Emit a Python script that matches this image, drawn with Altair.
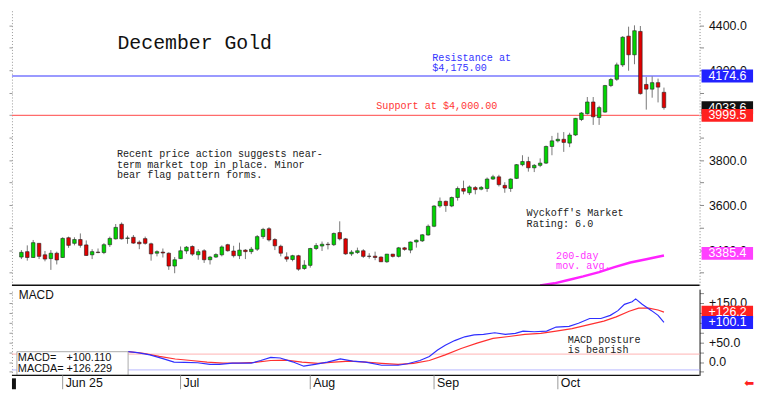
import altair as alt
import pandas as pd

# ---------------- data ----------------
opens = [3369, 3393, 3367, 3430, 3379, 3362, 3386, 3367, 3455, 3430,
         3447, 3423, 3379, 3391, 3389, 3424, 3450, 3515, 3452, 3457,
         3435, 3451, 3428, 3386, 3391, 3386, 3329, 3362, 3396, 3416,
         3379, 3397, 3357, 3369, 3379, 3424, 3396, 3375, 3400, 3393,
         3404, 3460, 3495, 3447, 3417, 3370, 3358, 3375, 3318, 3332,
         3407, 3418, 3426, 3424, 3478, 3450, 3383, 3389, 3397, 3373,
         3373, 3369, 3348, 3382, 3372, 3410, 3400, 3436, 3441, 3467,
         3506, 3596, 3617, 3596, 3634, 3674, 3655, 3678, 3671, 3674,
         3716, 3726, 3688, 3674, 3719, 3780, 3794, 3766, 3777, 3787,
         3861, 3886, 3893, 3876, 3912, 3981, 4007, 4059, 3990, 4014,
         4132, 4160, 4224, 4352, 4269, 4373, 4137, 4116, 4145, 4102]
highs = [3400, 3421, 3445, 3431, 3396, 3400, 3393, 3457, 3460, 3457,
         3474, 3443, 3404, 3407, 3431, 3460, 3516, 3523, 3464, 3467,
         3443, 3460, 3433, 3399, 3407, 3390, 3369, 3416, 3418, 3421,
         3404, 3404, 3374, 3386, 3421, 3428, 3419, 3433, 3404, 3414,
         3467, 3499, 3502, 3453, 3424, 3390, 3379, 3379, 3355, 3410,
         3431, 3438, 3436, 3478, 3528, 3454, 3400, 3411, 3404, 3386,
         3393, 3372, 3383, 3383, 3414, 3414, 3438, 3447, 3471, 3514,
         3600, 3634, 3620, 3638, 3683, 3709, 3688, 3685, 3685, 3723,
         3735, 3735, 3702, 3719, 3783, 3822, 3815, 3783, 3808, 3865,
         3908, 3922, 3925, 3922, 3988, 4014, 4081, 4081, 4042, 4135,
         4166, 4234, 4352, 4394, 4400, 4397, 4170, 4173, 4163, 4123]
lows = [3360, 3353, 3365, 3360, 3350, 3312, 3336, 3365, 3410, 3421,
        3411, 3374, 3360, 3386, 3382, 3414, 3447, 3447, 3428, 3428,
        3404, 3424, 3353, 3372, 3367, 3312, 3297, 3360, 3383, 3374,
        3357, 3343, 3336, 3365, 3372, 3393, 3367, 3360, 3360, 3382,
        3396, 3450, 3438, 3400, 3372, 3348, 3350, 3308, 3312, 3322,
        3400, 3396, 3403, 3418, 3443, 3379, 3374, 3383, 3365, 3362,
        3355, 3347, 3343, 3367, 3367, 3397, 3386, 3411, 3436, 3464,
        3502, 3588, 3570, 3591, 3620, 3648, 3645, 3648, 3666, 3659,
        3712, 3683, 3655, 3659, 3716, 3773, 3749, 3747, 3769, 3783,
        3822, 3879, 3837, 3858, 3908, 3974, 4003, 3957, 3957, 4011,
        4125, 4153, 4215, 4198, 4227, 4092, 4025, 4078, 4057, 4025]
closes = [3390, 3367, 3433, 3372, 3360, 3386, 3356, 3452, 3421, 3447,
          3421, 3376, 3393, 3389, 3424, 3452, 3501, 3450, 3454, 3431,
          3428, 3430, 3383, 3393, 3387, 3329, 3357, 3397, 3413, 3382,
          3393, 3357, 3369, 3380, 3414, 3397, 3375, 3400, 3393, 3404,
          3460, 3492, 3445, 3419, 3386, 3360, 3375, 3315, 3333, 3407,
          3420, 3426, 3424, 3474, 3450, 3383, 3391, 3397, 3372, 3372,
          3367, 3348, 3382, 3372, 3410, 3403, 3436, 3444, 3468, 3506,
          3596, 3617, 3598, 3634, 3674, 3662, 3681, 3669, 3679, 3716,
          3726, 3691, 3676, 3716, 3780, 3794, 3766, 3777, 3787, 3861,
          3886, 3893, 3879, 3912, 3986, 4010, 4059, 3993, 4034, 4132,
          4159, 4224, 4347, 4269, 4376, 4096, 4116, 4145, 4125, 4034]

# 200-day moving average (trading-day index, price)
ma_idx = [88, 90.4, 92.6, 95.3, 98, 100.6, 103.3, 106, 109]
ma_val = [3242, 3252, 3266, 3283, 3302, 3324, 3345, 3359, 3376]

# MACD (blue) and MACDA / signal (red)
macd_idx = [18.1, 19.7, 21.8, 24.0, 25.9, 27.7, 29.9, 32.0, 33.6, 35.8, 39.0, 40.6,
            42.3, 43.9, 46.0, 47.9, 49.8, 51.9, 54.1, 56.2, 58.4, 61.1, 63.9, 65.5,
            67.6, 69.2, 70.6, 71.9, 73.5, 75.2, 76.8, 78.4, 80.3, 82.1, 83.8, 85.1,
            87.0, 89.1, 90.7, 92.9, 94.5, 96.4, 98.3, 99.9, 101.2, 102.3, 103.6,
            104.2, 105.3, 106.9, 108.0, 109.0]
macd_val = [26.1, 23.7, 18.2, 8.6, -0.2, -1.0, -1.8, -5.8, -5.8, -2.6, -2.6, 3.8,
            11.8, 10.1, 0.5, -10.6, -5.8, -0.2, 7.7, 2.2, -0.2, -8.2, -8.2, -4.3,
            3.8, 14.1, 30.2, 42.2, 54.2, 63.8, 68.6, 70.0, 74.1, 70.0, 72.4, 78.2,
            76.5, 78.2, 88.5, 90.2, 98.1, 110.1, 110.1, 118.0, 130.0, 146.0, 152.5,
            159.7, 146.0, 130.0, 118.0, 100.1]
sig_idx = [18.1, 20.7, 23.4, 26.1, 28.8, 31.5, 34.2, 36.9, 39.6, 42.3, 44.9, 47.6,
           50.3, 53.0, 55.7, 58.4, 61.1, 63.9, 66.5, 69.2, 71.9, 74.6, 77.3, 80.0,
           82.7, 85.4, 88.1, 90.7, 93.4, 96.1, 98.8, 100.9, 103.1, 104.7, 106.4,
           108.0, 109.0]
sig_val = [26.1, 22.1, 14.1, 7.7, 3.8, -0.2, -2.6, -2.6, -1.0, 3.8, 4.6, -0.2,
           -3.4, -0.2, 2.2, -0.2, -3.4, -5.8, -3.4, 3.8, 18.2, 34.1, 47.7, 59.7,
           64.5, 70.0, 72.4, 78.2, 84.4, 94.0, 103.6, 114.1, 128.5, 136.5, 136.5,
           131.7, 126.2]

tick_idx = [7, 27, 49, 70, 91]
tick_text = ["Jun 25", "Jul", "Aug", "Sep", "Oct"]
price_ticks = [3300, 3400, 3500, 3600, 3700, 3800, 3900, 4000, 4100, 4200, 4300, 4400]
macd_ticks = [-25, 0, 25, 50, 75, 100, 125, 150, 175]

resistance = 4174.6
support = 3999.5
last_price = 4033.6
ma_last = 3385.4
macd_last = 100.110
macda_last = 126.229

# ---------------- layout ----------------
W = 694
H1 = 278
H2 = 87
XDOM = [-0.76, 114.2]
YDOM = [3243.7, 4469.2]
MDOM = [-33.8, 184.3]
SANS = "Liberation Sans"
MONO = "Liberation Mono"

xsc = alt.Scale(domain=XDOM, nice=False, zero=False)
ysc = alt.Scale(domain=YDOM, nice=False, zero=False)
msc = alt.Scale(domain=MDOM, nice=False, zero=False)

left_axis = alt.Axis(orient="left", values=price_ticks, labels=False, tickSize=3,
                     tickColor="#999", domainColor="#999", domainDash=[1, 2],
                     title=None, grid=False)
right_axis = alt.Axis(orient="right", values=price_ticks, tickSize=4, tickColor="#888",
                      domainColor="#888", domainDash=[1, 2],
                      labelExpr="datum.value % 200 == 0 ? format(datum.value, '.1f') : ''",
                      labelFont=SANS, labelFontSize=12.5, labelColor="#111",
                      labelPadding=5, labelOverlap=False, title=None, grid=False)
m_left_axis = alt.Axis(orient="left", values=macd_ticks, labels=False, tickSize=3,
                       tickColor="#999", domainColor="#999", domainDash=[1, 2],
                       title=None, grid=False)
m_right_axis = alt.Axis(orient="right", values=macd_ticks, tickSize=4, tickColor="#888",
                        domainColor="#111",
                        labelExpr="datum.value % 50 == 0 ? (datum.value > 0 ? '+' : '') + format(datum.value, '.1f') : ''",
                        labelFont=SANS, labelFontSize=12.5, labelColor="#111",
                        labelPadding=5, labelOverlap=False, title=None, grid=False)


def note(text, xv, yv, color, size, scale, font=MONO, baseline="top", lh=10.6):
    df = pd.DataFrame({"x": [xv], "y": [yv], "t": [text]})
    return alt.Chart(df).mark_text(align="left", baseline=baseline, color=color, font=font,
                                   fontSize=size, lineBreak="\n", lineHeight=lh).encode(
        x=alt.X("x:Q", scale=xsc, axis=None),
        y=alt.Y("y:Q", scale=scale, axis=None),
        text="t:N")


def hline(value, color, width, scale):
    return alt.Chart(pd.DataFrame({"v": [value]})).mark_rule(color=color, strokeWidth=width).encode(
        y=alt.Y("v:Q", scale=scale, axis=None))


def tag(value, text, color, scale):
    df = pd.DataFrame({"v": [value], "t": [text]})
    box = alt.Chart(df).mark_rule(color=color, strokeWidth=13).encode(
        x=alt.value(W + 2), x2=alt.value(W + 54),
        y=alt.Y("v:Q", scale=scale, axis=None))
    txt = alt.Chart(df).mark_text(align="left", baseline="middle", color="white",
                                  font=SANS, fontSize=12.5).encode(
        x=alt.value(W + 9), y=alt.Y("v:Q", scale=scale, axis=None), text="t:N")
    return box + txt


cdf = pd.DataFrame({"i": list(range(len(opens))), "open": opens, "high": highs,
                    "low": lows, "close": closes})

wicks = alt.Chart(cdf).mark_rule(color="#777", strokeWidth=1).encode(
    x=alt.X("i:Q", scale=xsc, axis=None),
    y=alt.Y("low:Q", scale=ysc, axis=left_axis),
    y2="high:Q")
bodies = alt.Chart(cdf).mark_bar(stroke="#222", strokeWidth=0.6).encode(
    x=alt.X("i:Q", scale=xsc, axis=None),
    y=alt.Y("open:Q", scale=ysc, axis=right_axis),
    y2="close:Q",
    color=alt.condition("datum.close >= datum.open", alt.value("#00d400"), alt.value("#e00000")),
    size=alt.value(3.6))

ma = alt.Chart(pd.DataFrame({"i": ma_idx, "v": ma_val})).mark_line(
    color="#ff22ff", strokeWidth=2.5, clip=True).encode(
    x=alt.X("i:Q", scale=xsc, axis=None), y=alt.Y("v:Q", scale=ysc, axis=None))

main = alt.layer(
    hline(resistance, "#9a9aff", 2, ysc),
    hline(support, "#ff6b6b", 1.2, ysc),
    wicks,
    bodies,
    ma,
    note("December Gold", 16.3, 4321.9, "#111", 20, ysc, baseline="middle"),
    note("Resistance at\n$4,175.00", 69.7, 4276.6, "#3535ff", 10.2, ysc),
    note(f"Support at ${support + 0.5:,.2f}", 60.2, 4061.8, "#ff3535", 10.2, ysc),
    note("Recent price action suggests near-\nterm market top in place. Minor\nbear flag pattern forms.",
         16.2, 3848.3, "#222", 10.2, ysc),
    note("Wyckoff's Market\nRating: 6.0", 85.7, 3584.9, "#222", 10.2, ysc),
    note("200-day\nmov. avg.", 90.7, 3397.0, "#ff33ff", 10.2, ysc),
    hline(YDOM[0], "#111", 1.5, ysc),
    tag(last_price, f"{last_price:.1f}", "#111111", ysc),
    tag(support, f"{support:.1f}", "#ff2020", ysc),
    tag(resistance, f"{resistance:.1f}", "#2222ff", ysc),
    tag(ma_last, f"{ma_last:.1f}", "#ff40ff", ysc),
).resolve_axis(y="independent").properties(width=W, height=H1)

sig = alt.Chart(pd.DataFrame({"i": sig_idx, "v": sig_val})).mark_line(
    color="#ff3030", strokeWidth=1.2).encode(
    x=alt.X("i:Q", scale=xsc, axis=None), y=alt.Y("v:Q", scale=msc, axis=m_right_axis))
mac = alt.Chart(pd.DataFrame({"i": macd_idx, "v": macd_val})).mark_line(
    color="#2f2fff", strokeWidth=1.2).encode(
    x=alt.X("i:Q", scale=xsc, axis=None), y=alt.Y("v:Q", scale=msc, axis=m_left_axis))

box = alt.Chart(pd.DataFrame({"x1": [XDOM[0]], "x2": [18.1], "y1": [26.1], "y2": [MDOM[0]]})).mark_rect(
    fill="white", stroke="#aaa", strokeWidth=1).encode(
    x=alt.X("x1:Q", scale=xsc, axis=None), x2="x2:Q",
    y=alt.Y("y1:Q", scale=msc, axis=None), y2="y2:Q")

# date strip under the MACD panel, drawn from the x scale
dates = pd.DataFrame({"i": tick_idx, "t": tick_text})
date_ticks = alt.Chart(dates).mark_rule(color="#999", strokeWidth=1).encode(
    x=alt.X("i:Q", scale=xsc, axis=None), y=alt.value(H2), y2=alt.value(H2 + 14))
date_labels = alt.Chart(dates).mark_text(
    align="left", baseline="top", dx=3, font=SANS, fontSize=12.5, color="#111").encode(
    x=alt.X("i:Q", scale=xsc, axis=None), y=alt.value(H2 + 2), text="t:N")

corner = alt.Chart(pd.DataFrame({"t": [""]})).mark_rule(color="#111", strokeWidth=4).encode(
    x=alt.value(2), y=alt.value(H2 + 3), y2=alt.value(H2 + 14))

arrow = alt.Chart(pd.DataFrame({"t": ["\u2b05"]})).mark_text(
    color="#ff2020", font="DejaVu Sans", fontSize=12, align="center", baseline="middle").encode(
    x=alt.value(W + 50), y=alt.value(H2 + 8), text="t:N")

macd = alt.layer(
    hline(20, "#ffb3b3", 1, msc),
    hline(-20, "#b8b8ff", 1, msc),
    sig,
    mac,
    box,
    note("MACD=", -0.6, 9.4, "#111", 11, msc, font=SANS, baseline="middle"),
    note(f"{macd_last:+.3f}", 7.63, 9.4, "#111", 11, msc, font=SANS, baseline="middle"),
    note("MACDA=", -0.6, -17.0, "#111", 11, msc, font=SANS, baseline="middle"),
    note(f"{macda_last:+.3f}", 7.63, -17.0, "#111", 11, msc, font=SANS, baseline="middle"),
    note("MACD", -0.45, 168.3, "#111", 12, msc, font=SANS, baseline="middle"),
    note("MACD posture\nis bearish", 92.7, 69.1, "#222", 10.2, msc),
    hline(MDOM[0], "#111", 1.5, msc),
    date_ticks,
    date_labels,
    corner,
    tag(macda_last, f"{macda_last:+.1f}", "#ff2020", msc),
    tag(macd_last, f"{macd_last:+.1f}", "#2222ff", msc),
    arrow,
).resolve_axis(y="independent").properties(width=W, height=H2)

chart = alt.vconcat(main, macd, spacing=0).resolve_scale(
    x="shared", y="independent").properties(padding=0).configure_view(stroke=None)

chart.save("out.html", embed_options={"renderer": "svg", "actions": False})
